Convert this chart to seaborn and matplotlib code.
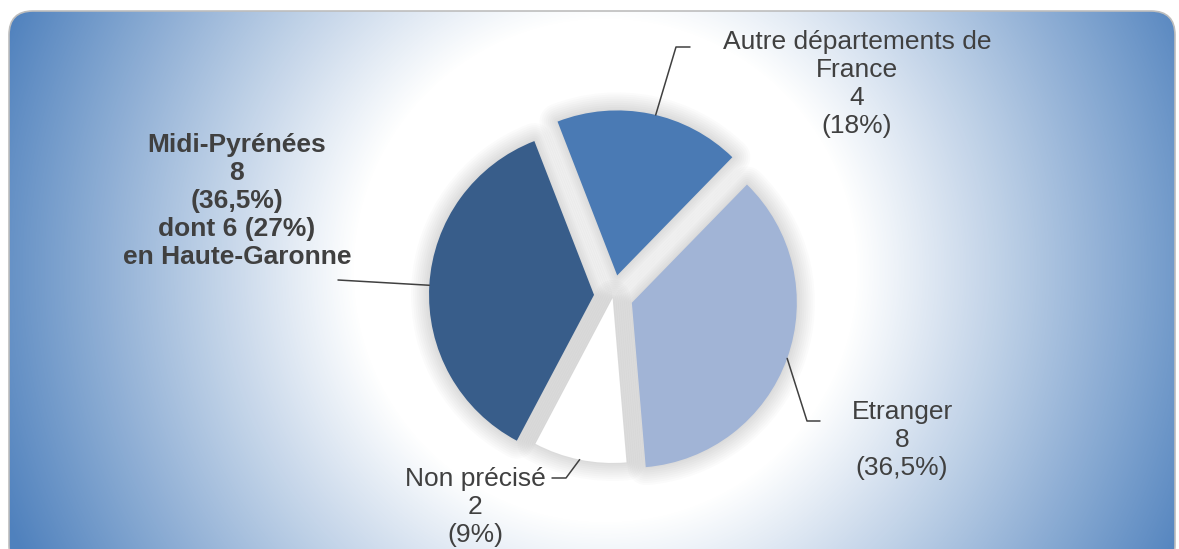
import numpy as np
import matplotlib
matplotlib.use("Agg")
import matplotlib.pyplot as plt
from matplotlib.patches import FancyBboxPatch
import seaborn as sns

# data
labels = ["Autre départements de\nFrance\n4\n(18%)",
          "Etranger\n8\n(36,5%)",
          "Non précisé\n2\n(9%)",
          "Midi-Pyrénées\n8\n(36,5%)\ndont 6 (27%)\nen Haute-Garonne"]
counts = [4, 8, 2, 8]
colors = ["#4a7ab4", "#a1b4d6", "#ffffff", "#385d8a"]
explode = [21, 20, 2, 19]

sns.set_style("white")
plt.rcParams["font.family"] = ["Liberation Sans", "DejaVu Sans"]

W, H = 1179, 549
fig = plt.figure(figsize=(W / 100, H / 100), dpi=100)
ax = fig.add_axes([0, 0, 1, 1])

# rounded frame with radial gradient background
frame = FancyBboxPatch((9, -20), 1166, 558, boxstyle="round,pad=0,rounding_size=24",
                       facecolor="none", edgecolor="#bdbdbd", linewidth=1.2, zorder=3)
ax.add_patch(frame)
xx, yy = np.meshgrid(np.arange(W), np.arange(H))
d = np.hypot(xx - 605, yy - 270)
t = np.clip((d - 250) / 400, 0, 1)
cmap = sns.blend_palette(["#ffffff", "#4f81bd"], as_cmap=True)
img = ax.imshow(t, cmap=cmap, extent=(0, W, 0, H), origin="upper", vmin=0, vmax=1,
                zorder=0, aspect="auto")
img.set_clip_path(frame)

center = (613, H - 296)
radius = 165

# soft shadow halo
for lw in range(26, 1, -3):
    ax.pie(counts, explode=explode, center=center, radius=radius, startangle=111.2,
           counterclock=False, frame=True,
           wedgeprops=dict(facecolor="none", edgecolor=(0, 0, 0, 0.017), linewidth=lw,
                           joinstyle="round", zorder=1))

wedges, _ = ax.pie(counts, explode=explode, colors=colors, center=center, radius=radius,
                   startangle=111.2, counterclock=False, frame=True,
                   wedgeprops=dict(linewidth=0, zorder=2))
ax.set_xlim(0, W)
ax.set_ylim(0, H)
ax.axis("off")


def arc_point(w, frac):
    ang = np.deg2rad(w.theta1 + frac * (w.theta2 - w.theta1))
    cx, cy = w.center
    return cx + w.r * np.cos(ang), cy + w.r * np.sin(ang)


txt = dict(color="#404040", fontsize=19, ha="center", va="center", linespacing=1.22, zorder=5)
line = dict(color="#404040", lw=1.1, zorder=4)

# Autre départements de France
ax.text(857, H - 84, labels[0], **txt)
p = arc_point(wedges[0], 0.47)
ax.plot([p[0], 676, 690], [p[1], H - 47, H - 47], **line)

# Etranger
ax.text(902, H - 440, labels[1], **txt)
p = arc_point(wedges[1], 0.5)
ax.plot([p[0], 807, 820], [p[1], H - 421, H - 421], **line)

# Non précisé
ax.text(475, H - 507, labels[2], **txt)
p = arc_point(wedges[2], 0.5)
ax.plot([p[0], 566, 552], [p[1], H - 478, H - 478], **line)

# Midi-Pyrénées
ax.text(237, H - 201, labels[3], fontweight="bold", **txt)
p = arc_point(wedges[3], 0.5)
ax.plot([p[0], 338], [p[1], H - 280], **line)

fig.savefig("out.png", dpi=100)
